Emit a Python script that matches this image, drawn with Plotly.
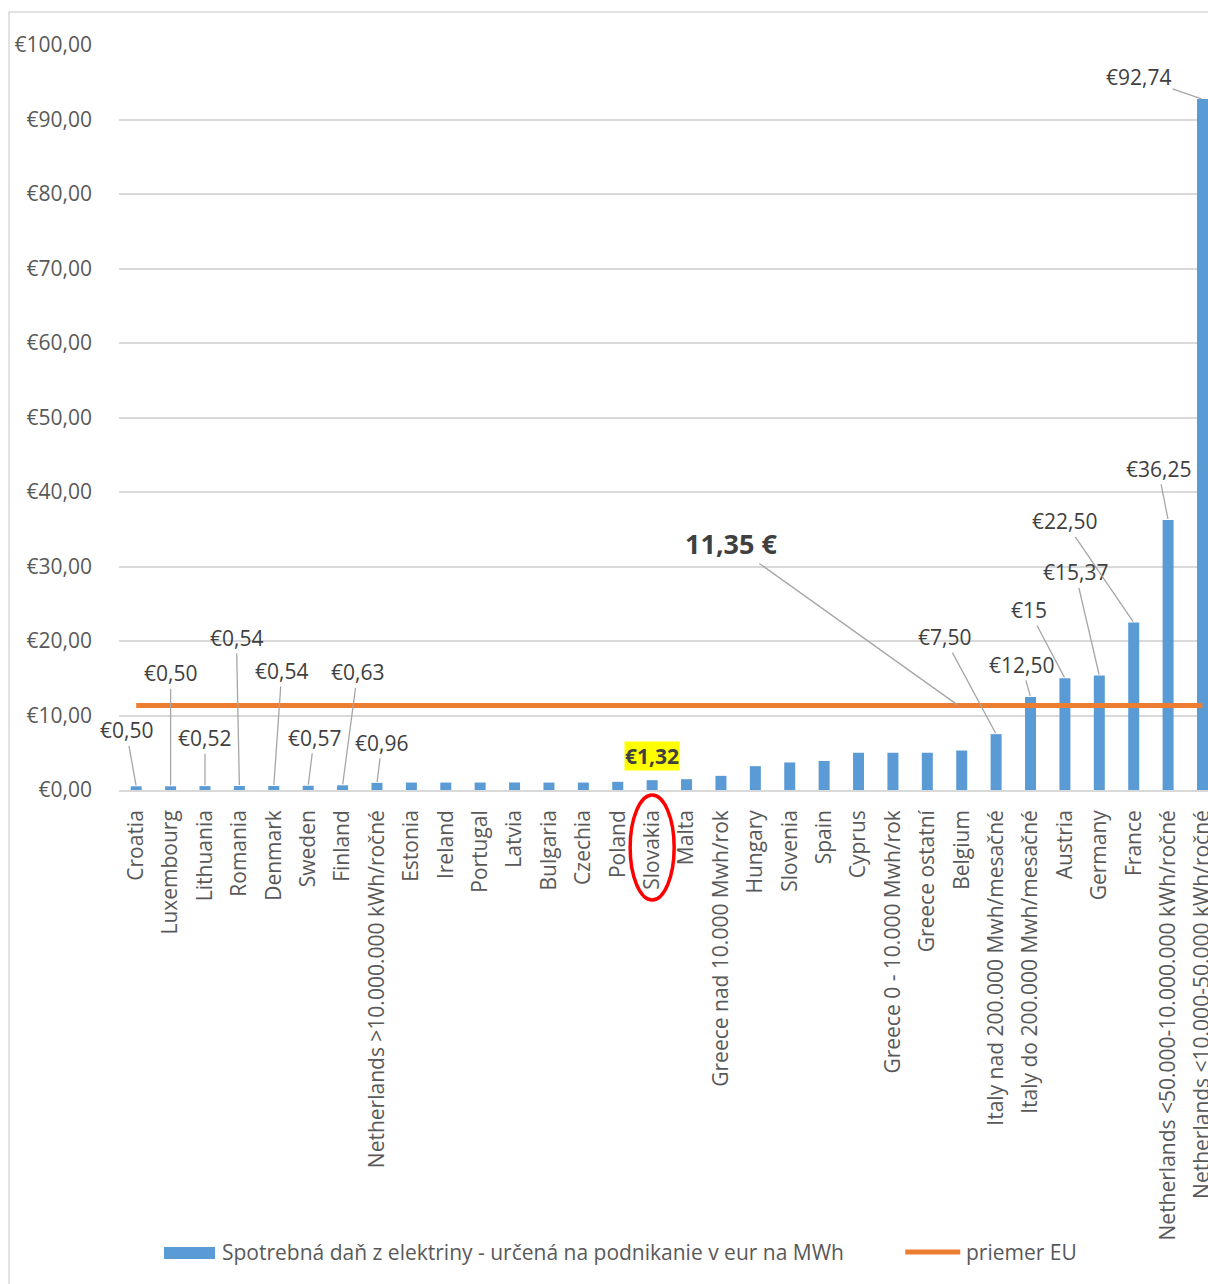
import plotly.graph_objects as go

# Excise duty on electricity for business use (EUR per MWh)
categories = [
    "Croatia", "Luxembourg", "Lithuania", "Romania", "Denmark", "Sweden", "Finland",
    "Netherlands >10.000.000 kWh/ročné", "Estonia", "Ireland", "Portugal", "Latvia",
    "Bulgaria", "Czechia", "Poland", "Slovakia", "Malta", "Greece nad 10.000 Mwh/rok",
    "Hungary", "Slovenia", "Spain", "Cyprus", "Greece 0 - 10.000 Mwh/rok",
    "Greece ostatní", "Belgium", "Italy nad 200.000 Mwh/mesačné",
    "Italy do 200.000 Mwh/mesačné", "Austria", "Germany", "France",
    "Netherlands <50.000-10.000.000 kWh/ročné", "Netherlands <10.000-50.000 kWh/ročné",
]
tax_values = [
    0.50, 0.50, 0.52, 0.54, 0.54, 0.57, 0.63,
    0.96, 1.00, 1.00, 1.00, 1.01,
    1.00, 1.00, 1.10, 1.32, 1.45, 1.90,
    3.20, 3.70, 3.90, 5.00, 5.00,
    5.00, 5.30, 7.50,
    12.50, 15.00, 15.37, 22.50,
    36.25, 92.74,
]
eu_average = 11.35

y_ticks = [0, 10, 20, 30, 40, 50, 60, 70, 80, 90, 100]
y_tick_text = ["€0,00", "€10,00", "€20,00", "€30,00", "€40,00", "€50,00",
               "€60,00", "€70,00", "€80,00", "€90,00", "€100,00"]

series_bar = "Spotrebná daň z elektriny - určená na podnikanie v eur na MWh"
series_line = "priemer EU"

FONT = "Open Sans"
TXT = "#404040"
AX = "#595959"
GRID = "#D9D9D9"
LEAD = "#A6A6A6"
BLUE = "#5B9BD5"
ORANGE = "#ED7D31"


def eur(v):
    s = f"{v:.2f}".replace(".", ",")
    if s.endswith(",00"):
        s = s[:-3]
    return "€" + s


fig = go.Figure()
fig.add_trace(go.Bar(
    x=categories, y=tax_values, name=series_bar,
    marker=dict(color=BLUE, line=dict(width=0)),
    width=0.32, showlegend=False,
))
fig.add_trace(go.Scatter(
    x=categories, y=[eu_average] * len(categories), name=series_line,
    mode="lines", line=dict(color=ORANGE, width=5), showlegend=False,
))

# data labels with leader lines: (category index, x offset px, y offset px)
label_offsets = {
    0: (-10, -56), 1: (0, -113), 2: (0, -48), 3: (-3, -148), 4: (8, -115),
    5: (6, -48), 6: (15, -113), 7: (5, -40),
    25: (-52, -97), 26: (-9, -32), 27: (-36, -68), 28: (-24, -103),
    29: (-69, -101), 30: (-10, -51), 31: (-64, -22),
}
annotations = []
for i, (ax, ay) in label_offsets.items():
    annotations.append(dict(
        x=categories[i], y=tax_values[i], xref="x", yref="y",
        text=eur(tax_values[i]), showarrow=True, arrowhead=0, arrowwidth=1.3,
        arrowcolor=LEAD, ax=ax, ay=ay, standoff=1,
        font=dict(family=FONT, size=21, color=TXT),
    ))

# highlighted Slovakia label
sk = categories.index("Slovakia")
annotations.append(dict(
    x=categories[sk], y=tax_values[sk], xref="x", yref="y",
    text="<b>" + eur(tax_values[sk]) + "</b>", showarrow=False, yshift=24,
    bgcolor="#FFFF00", borderpad=0,
    font=dict(family=FONT, size=21, color=TXT),
))

# EU average callout
annotations.append(dict(
    x=23.9, y=eu_average, xref="x", yref="y",
    text="<b>" + f"{eu_average:.2f}".replace(".", ",") + " €</b>",
    showarrow=True, arrowhead=0, arrowwidth=1.3, arrowcolor=LEAD,
    ax=-227, ay=-162, standoff=1,
    font=dict(family=FONT, size=27, color=TXT),
))

# legend drawn below the axis labels
annotations += [
    dict(x=0.0923, y=-0.6201, xref="paper", yref="paper", text=series_bar,
         showarrow=False, xanchor="left", yanchor="middle",
         font=dict(family=FONT, size=21, color=AX)),
    dict(x=0.7760, y=-0.6201, xref="paper", yref="paper", text=series_line,
         showarrow=False, xanchor="left", yanchor="middle",
         font=dict(family=FONT, size=21, color=AX)),
]

shapes = [
    # chart area border
    dict(type="rect", xref="paper", yref="paper", x0=-0.101, x1=1.05,
         y0=-0.7, y1=1.0443, line=dict(color=GRID, width=1.5), layer="below"),
    # red ring around the Slovakia axis label
    dict(type="circle", xref="x", yref="paper", x0=sk - 0.64, x1=sk + 0.64,
         y0=-0.1477, y1=-0.0067, line=dict(color="#FF0000", width=3.5)),
    # legend swatches
    dict(type="rect", xref="paper", yref="paper", x0=0.0413, x1=0.0882,
         y0=-0.6295, y1=-0.6134, fillcolor=BLUE, line=dict(width=0)),
    dict(type="line", xref="paper", yref="paper", x0=0.7220, x1=0.7725,
         y0=-0.6201, y1=-0.6201, line=dict(color=ORANGE, width=5)),
]

fig.update_layout(
    width=1208, height=1284,
    margin=dict(l=119, r=0, t=45, b=494),
    paper_bgcolor="white", plot_bgcolor="white",
    font=dict(family=FONT, size=20, color=AX),
    showlegend=False,
    annotations=annotations,
    shapes=shapes,
)
fig.update_xaxes(
    type="category", range=[-0.5, 31.16], tickangle=-90, automargin=False,
    showgrid=False, showline=True, linecolor=GRID, linewidth=1.5,
    ticks="", ticklabelstandoff=10,
    tickfont=dict(family=FONT, size=21, color=AX),
)
fig.update_yaxes(
    range=[0, 100], tickvals=y_ticks, ticktext=y_tick_text, automargin=False,
    showgrid=True, gridcolor=GRID, gridwidth=1.5, zeroline=False,
    showline=False, ticks="", ticklabelstandoff=26,
    tickfont=dict(family=FONT, size=21, color=AX),
)

fig.write_html("out.html")
